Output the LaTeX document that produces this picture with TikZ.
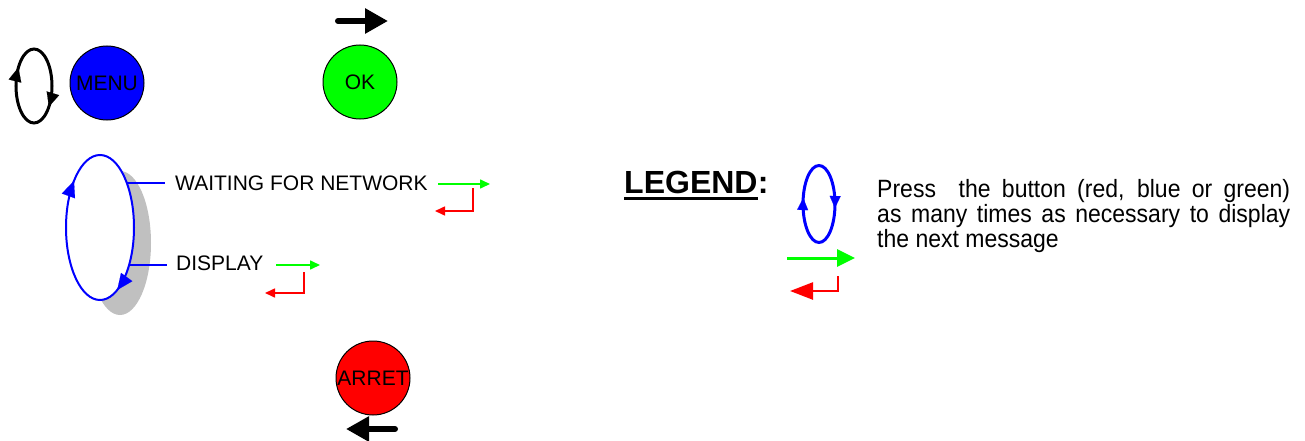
\documentclass[tikz,border=0pt]{standalone}
\usepackage{fontspec}
\setmainfont{Liberation Sans}
\newfontfamily\legfont[FakeStretch=0.92]{Liberation Sans}
\usetikzlibrary{arrows.meta,calc}
\definecolor{pblue}{RGB}{0,0,255}
\definecolor{pgreen}{RGB}{0,255,0}
\definecolor{pred}{RGB}{255,0,0}
\definecolor{pgray}{RGB}{192,192,192}
\begin{document}
\begin{tikzpicture}[x=1pt,y=-1pt,
  btn/.style={circle,draw=black,line width=1pt,inner sep=0pt,minimum size=74pt,font=\fontsize{21}{21}\selectfont},
  lbl/.style={anchor=base west,inner sep=0pt,font=\fontsize{21}{21}\selectfont},
  bigarrow/.style={line width=6pt,line cap=round,-{Triangle[length=23pt,width=24pt]}},
  gsmall/.style={pgreen,line width=1.6pt,-{Triangle[length=10pt,width=9pt]}},
  rsmall/.style={pred,line width=1.6pt,-{Triangle[length=10pt,width=9pt]}},
  tie/.style={pblue,line width=2pt},
  tipk/.style={line width=0.1pt,-{Triangle[length=14pt,width=13pt]}},
  tipb/.style={pblue,line width=0.1pt,-{Triangle[length=16pt,width=14pt]}},
  tipl/.style={pblue,line width=0.1pt,-{Triangle[length=12pt,width=11pt]}},
  legtext/.style={anchor=base west,inner sep=0pt,font=\legfont\fontsize{25}{25}\selectfont}
]
\useasboundingbox (0,0) rectangle (1305,441);

% black loop
\coordinate (kc) at (34,86);
\draw[line width=3pt] (kc) ellipse [x radius=18, y radius=37];
\coordinate (k1a) at ($(kc)+({18*cos(205)},{37*sin(205)})$);
\coordinate (k1b) at ($(kc)+({18*cos(210)},{37*sin(210)})$);
\draw[tipk] (k1a) -- (k1b);
\coordinate (k2a) at ($(kc)+({18*cos(29)},{37*sin(29)})$);
\coordinate (k2b) at ($(kc)+({18*cos(34)},{37*sin(34)})$);
\draw[tipk] (k2a) -- (k2b);

% buttons
\node[btn,fill=pblue] (menu) at (107,83) {MENU};
\node[btn,fill=pgreen] (ok) at (360,82) {OK};
\node[btn,fill=pred] (arret) at (373,378) {ARRET};

% thick black arrows
\coordinate (oka) at (338,21);
\coordinate (okb) at (388,21);
\draw[bigarrow] (oka) -- (okb);
\coordinate (ara) at (395,429);
\coordinate (arb) at (346,429);
\draw[bigarrow] (ara) -- (arb);

% shadow and big loop
\fill[pgray] (120,243) ellipse [x radius=31, y radius=72];
\coordinate (bc) at (100,227.5);
\draw[pblue,fill=white,line width=2pt] (bc) ellipse [x radius=34, y radius=72.5];
\coordinate (b1a) at ($(bc)+({34*cos(216)},{72.5*sin(216)})$);
\coordinate (b1b) at ($(bc)+({34*cos(220)},{72.5*sin(220)})$);
\draw[tipb] (b1a) -- (b1b);
\coordinate (b2a) at ($(bc)+({34*cos(55)},{72.5*sin(55)})$);
\coordinate (b2b) at ($(bc)+({34*cos(59.5)},{72.5*sin(59.5)})$);
\draw[tipb] (b2a) -- (b2b);

% labels
\node[lbl] (wait) at (175,190) {WAITING FOR NETWORK};
\node[lbl] (disp) at (176,270) {DISPLAY};
\coordinate (t1a) at (127,183);
\coordinate (t1b) at (165,183);
\coordinate (t2a) at (129,265);
\coordinate (t2b) at (167,265);
\draw[tie] (t1a) -- (t1b);
\draw[tie] (t2a) -- (t2b);

% small green/red arrows
\coordinate (g1a) at (438,184);
\coordinate (g1b) at (490,184);
\draw[gsmall] (g1a) -- (g1b);
\coordinate (r1a) at (473,188);
\coordinate (r1c) at (473,211);
\coordinate (r1b) at (435,211);
\draw[rsmall] (r1a) -- (r1c) -- (r1b);

\coordinate (g2a) at (276,265);
\coordinate (g2b) at (320,265);
\draw[gsmall] (g2a) -- (g2b);
\coordinate (r2a) at (304,272);
\coordinate (r2c) at (304,293);
\coordinate (r2b) at (265,293);
\draw[rsmall] (r2a) -- (r2c) -- (r2b);

% legend
\node[anchor=base west,inner sep=0pt,font=\fontsize{32}{32}\bfseries\selectfont] (leg) at (624,193) {LEGEND};
\node[anchor=base west,inner sep=0pt,font=\fontsize{32}{32}\bfseries\selectfont] (colon) at (leg.base east) {:};
\draw[line width=3pt] ([yshift=-5.5pt]leg.base west) -- ([yshift=-5.5pt]leg.base east);

\coordinate (lc) at (819,204);
\draw[pblue,line width=3pt] (lc) ellipse [x radius=16, y radius=38.5];
\coordinate (lt1a) at ($(lc)+({16*cos(183)},{38.5*sin(183)})$);
\coordinate (lt1b) at ($(lc)+({16*cos(189)},{38.5*sin(189)})$);
\draw[tipl] (lt1a) -- (lt1b);
\coordinate (lt2a) at ($(lc)+({16*cos(0)},{38.5*sin(0)})$);
\coordinate (lt2b) at ($(lc)+({16*cos(6)},{38.5*sin(6)})$);
\draw[tipl] (lt2a) -- (lt2b);

\coordinate (lga) at (787,258);
\coordinate (lgb) at (855,258);
\draw[pgreen,line width=3pt,-{Triangle[length=18pt,width=17pt]}] (lga) -- (lgb);
\coordinate (lra) at (838,276);
\coordinate (lrc) at (838,291);
\coordinate (lrb) at (790,291);
\draw[pred,line width=2.5pt,-{Triangle[length=23pt,width=17pt]}] (lra) -- (lrc) -- (lrb);

\node[legtext] (l1) at (877,197) {\makebox[413pt][s]{Press\ \ the button (red, blue or green)}};
\node[legtext] (l2) at (877,222) {\makebox[413pt][s]{as many times as necessary to display}};
\node[legtext] (l3) at (877,247) {the next message};
\end{tikzpicture}
\end{document}
